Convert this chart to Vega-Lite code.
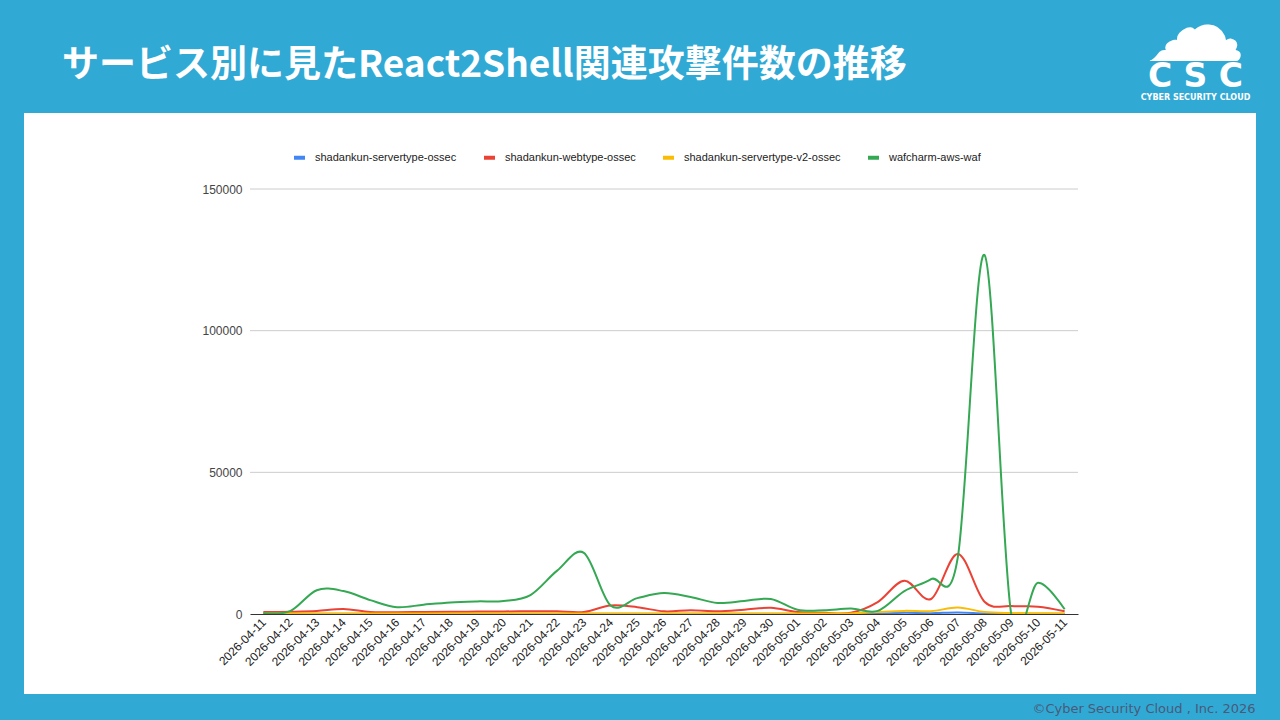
{
  "$schema": "https://vega.github.io/schema/vega-lite/v6.json",
  "description": "Daily React2Shell-related attacks by service, 2026-04-11 to 2026-05-11.",
  "width": 1072,
  "height": 421,
  "autosize": {"type": "none"},
  "padding": {"left": 104, "top": 193, "right": 104, "bottom": 106},
  "background": "#31a9d5",
  "title": {
    "text": "サービス別に見たReact2Shell関連攻撃件数の推移",
    "anchor": "start",
    "frame": "group",
    "dx": -42,
    "dy": 110,
    "color": "white",
    "font": "Noto Sans CJK JP",
    "fontSize": 37,
    "fontWeight": "bold"
  },
  "layer": [
    {
      "data": {"values": [{"v": 50000}, {"v": 100000}, {"v": 150000}]},
      "mark": {"type": "rule", "color": "#cccccc", "strokeWidth": 1},
      "encoding": {
        "x": {
          "datum": "2026-04-11",
          "type": "ordinal",
          "scale": {"type": "point", "domain": ["2026-04-11", "2026-05-11"], "range": [146, 974], "padding": 0},
          "axis": {
            "orient": "top",
            "labels": false,
            "ticks": false,
            "domain": false,
            "grid": false,
            "title": "☁",
            "titleFont": "DejaVu Sans",
            "titleFontSize": 101,
            "titleFontWeight": "normal",
            "titleColor": "white",
            "titleAngle": 0,
            "titleAlign": "center",
            "titleBaseline": "middle",
            "titleX": 1091,
            "titleY": -163
          }
        },
        "x2": {"datum": "2026-05-11"},
        "y": {
          "field": "v",
          "type": "quantitative",
          "scale": {"domain": [0, 150000], "range": [421, -4], "nice": false},
          "axis": {
            "orient": "right",
            "labels": false,
            "ticks": false,
            "domain": false,
            "grid": false,
            "title": "C S C",
            "titleFont": "DejaVu Sans",
            "titleFontSize": 33,
            "titleFontWeight": "bold",
            "titleColor": "white",
            "titleAngle": 0,
            "titleAlign": "center",
            "titleBaseline": "middle",
            "titleX": 19,
            "titleY": -117
          }
        }
      }
    },
    {
      "data": {
        "values": [
          {"date": "2026-04-11", "shadankun-servertype-ossec": 50, "shadankun-webtype-ossec": 700, "shadankun-servertype-v2-ossec": 150, "wafcharm-aws-waf": 300},
          {"date": "2026-04-12", "shadankun-servertype-ossec": 50, "shadankun-webtype-ossec": 800, "shadankun-servertype-v2-ossec": 150, "wafcharm-aws-waf": 1000},
          {"date": "2026-04-13", "shadankun-servertype-ossec": 50, "shadankun-webtype-ossec": 1050, "shadankun-servertype-v2-ossec": 200, "wafcharm-aws-waf": 8400},
          {"date": "2026-04-14", "shadankun-servertype-ossec": 50, "shadankun-webtype-ossec": 1750, "shadankun-servertype-v2-ossec": 200, "wafcharm-aws-waf": 8100},
          {"date": "2026-04-15", "shadankun-servertype-ossec": 50, "shadankun-webtype-ossec": 700, "shadankun-servertype-v2-ossec": 150, "wafcharm-aws-waf": 4900},
          {"date": "2026-04-16", "shadankun-servertype-ossec": 50, "shadankun-webtype-ossec": 650, "shadankun-servertype-v2-ossec": 150, "wafcharm-aws-waf": 2400},
          {"date": "2026-04-17", "shadankun-servertype-ossec": 50, "shadankun-webtype-ossec": 700, "shadankun-servertype-v2-ossec": 150, "wafcharm-aws-waf": 3300},
          {"date": "2026-04-18", "shadankun-servertype-ossec": 50, "shadankun-webtype-ossec": 800, "shadankun-servertype-v2-ossec": 150, "wafcharm-aws-waf": 4100},
          {"date": "2026-04-19", "shadankun-servertype-ossec": 50, "shadankun-webtype-ossec": 850, "shadankun-servertype-v2-ossec": 150, "wafcharm-aws-waf": 4450},
          {"date": "2026-04-20", "shadankun-servertype-ossec": 50, "shadankun-webtype-ossec": 900, "shadankun-servertype-v2-ossec": 150, "wafcharm-aws-waf": 4600},
          {"date": "2026-04-21", "shadankun-servertype-ossec": 50, "shadankun-webtype-ossec": 1000, "shadankun-servertype-v2-ossec": 150, "wafcharm-aws-waf": 6700},
          {"date": "2026-04-22", "shadankun-servertype-ossec": 50, "shadankun-webtype-ossec": 950, "shadankun-servertype-v2-ossec": 150, "wafcharm-aws-waf": 15300},
          {"date": "2026-04-23", "shadankun-servertype-ossec": 50, "shadankun-webtype-ossec": 700, "shadankun-servertype-v2-ossec": 150, "wafcharm-aws-waf": 21600},
          {"date": "2026-04-24", "shadankun-servertype-ossec": 50, "shadankun-webtype-ossec": 3000, "shadankun-servertype-v2-ossec": 200, "wafcharm-aws-waf": 3000},
          {"date": "2026-04-25", "shadankun-servertype-ossec": 50, "shadankun-webtype-ossec": 2400, "shadankun-servertype-v2-ossec": 200, "wafcharm-aws-waf": 5600},
          {"date": "2026-04-26", "shadankun-servertype-ossec": 50, "shadankun-webtype-ossec": 950, "shadankun-servertype-v2-ossec": 200, "wafcharm-aws-waf": 7400},
          {"date": "2026-04-27", "shadankun-servertype-ossec": 50, "shadankun-webtype-ossec": 1300, "shadankun-servertype-v2-ossec": 200, "wafcharm-aws-waf": 6000},
          {"date": "2026-04-28", "shadankun-servertype-ossec": 50, "shadankun-webtype-ossec": 950, "shadankun-servertype-v2-ossec": 200, "wafcharm-aws-waf": 3900},
          {"date": "2026-04-29", "shadankun-servertype-ossec": 50, "shadankun-webtype-ossec": 1500, "shadankun-servertype-v2-ossec": 200, "wafcharm-aws-waf": 4600},
          {"date": "2026-04-30", "shadankun-servertype-ossec": 50, "shadankun-webtype-ossec": 2200, "shadankun-servertype-v2-ossec": 200, "wafcharm-aws-waf": 5300},
          {"date": "2026-05-01", "shadankun-servertype-ossec": 50, "shadankun-webtype-ossec": 700, "shadankun-servertype-v2-ossec": 150, "wafcharm-aws-waf": 1500},
          {"date": "2026-05-02", "shadankun-servertype-ossec": 50, "shadankun-webtype-ossec": 450, "shadankun-servertype-v2-ossec": 150, "wafcharm-aws-waf": 1300},
          {"date": "2026-05-03", "shadankun-servertype-ossec": 50, "shadankun-webtype-ossec": 450, "shadankun-servertype-v2-ossec": 200, "wafcharm-aws-waf": 1900},
          {"date": "2026-05-04", "shadankun-servertype-ossec": 150, "shadankun-webtype-ossec": 4200, "shadankun-servertype-v2-ossec": 700, "wafcharm-aws-waf": 1100},
          {"date": "2026-05-05", "shadankun-servertype-ossec": 400, "shadankun-webtype-ossec": 11750, "shadankun-servertype-v2-ossec": 1100, "wafcharm-aws-waf": 8100},
          {"date": "2026-05-06", "shadankun-servertype-ossec": 300, "shadankun-webtype-ossec": 5300, "shadankun-servertype-v2-ossec": 1000, "wafcharm-aws-waf": 12300},
          {"date": "2026-05-07", "shadankun-servertype-ossec": 500, "shadankun-webtype-ossec": 21200, "shadankun-servertype-v2-ossec": 2300, "wafcharm-aws-waf": 20000},
          {"date": "2026-05-08", "shadankun-servertype-ossec": 200, "shadankun-webtype-ossec": 4300, "shadankun-servertype-v2-ossec": 700, "wafcharm-aws-waf": 126700},
          {"date": "2026-05-09", "shadankun-servertype-ossec": 100, "shadankun-webtype-ossec": 2800, "shadankun-servertype-v2-ossec": 350, "wafcharm-aws-waf": 0},
          {"date": "2026-05-10", "shadankun-servertype-ossec": 50, "shadankun-webtype-ossec": 2600, "shadankun-servertype-v2-ossec": 250, "wafcharm-aws-waf": 11000},
          {"date": "2026-05-11", "shadankun-servertype-ossec": 50, "shadankun-webtype-ossec": 1000, "shadankun-servertype-v2-ossec": 200, "wafcharm-aws-waf": 1650}
        ]
      },
      "transform": [
        {
          "fold": ["shadankun-servertype-ossec", "shadankun-webtype-ossec", "shadankun-servertype-v2-ossec", "wafcharm-aws-waf"],
          "as": ["series", "count"]
        }
      ],
      "mark": {"type": "line", "interpolate": "cardinal", "strokeWidth": 2, "clip": true},
      "encoding": {
        "x": {
          "field": "date",
          "type": "ordinal",
          "sort": null,
          "scale": {"type": "point", "range": [146, 974], "padding": 0.5},
          "axis": {
            "orient": "bottom",
            "labelAngle": -45,
            "labelAlign": "right",
            "labelBaseline": "middle",
            "labelPadding": 6,
            "labelFont": "Liberation Sans",
            "labelFontSize": 12,
            "labelColor": "#222222",
            "ticks": false,
            "grid": false,
            "domainColor": "#333333",
            "domainWidth": 1,
            "title": "©Cyber Security Cloud , Inc. 2026",
            "titleFont": "DejaVu Sans",
            "titleFontSize": 13,
            "titleFontWeight": "normal",
            "titleColor": "#4a5a78",
            "titleAlign": "right",
            "titleBaseline": "middle",
            "titleX": 1151,
            "titleY": 94
          }
        },
        "y": {
          "field": "count",
          "type": "quantitative",
          "scale": {"domain": [0, 150000], "range": [421, -4], "nice": false},
          "axis": {
            "orient": "left",
            "offset": -146,
            "values": [0, 50000, 100000, 150000],
            "format": "d",
            "labelFont": "Liberation Sans",
            "labelFontSize": 12,
            "labelColor": "#444444",
            "labelPadding": 8,
            "ticks": false,
            "tickSize": 0,
            "domain": false,
            "grid": false,
            "title": "CYBER SECURITY CLOUD",
            "titleFont": "DejaVu Sans",
            "titleFontSize": 8,
            "titleFontWeight": "bold",
            "titleColor": "white",
            "titleAngle": 0,
            "titleAlign": "center",
            "titleBaseline": "middle",
            "titleX": 945,
            "titleY": -96
          }
        },
        "color": {
          "field": "series",
          "type": "nominal",
          "scale": {
            "domain": ["shadankun-servertype-ossec", "shadankun-webtype-ossec", "shadankun-servertype-v2-ossec", "wafcharm-aws-waf"],
            "range": ["#4285f4", "#ea4335", "#fbbc04", "#34a853"]
          },
          "legend": {
            "orient": "none",
            "direction": "horizontal",
            "legendX": 188,
            "legendY": -43,
            "title": null,
            "symbolType": "stroke",
            "symbolStrokeWidth": 4,
            "symbolSize": 120,
            "labelFont": "Liberation Sans",
            "labelFontSize": 11,
            "labelColor": "#222222",
            "labelOffset": 8,
            "labelLimit": 300,
            "columnPadding": 19,
            "padding": 0
          }
        }
      }
    }
  ],
  "resolve": {"scale": {"x": "independent", "y": "independent"}},
  "config": {
    "view": {"fill": "white", "stroke": "white", "strokeWidth": 160}
  }
}
